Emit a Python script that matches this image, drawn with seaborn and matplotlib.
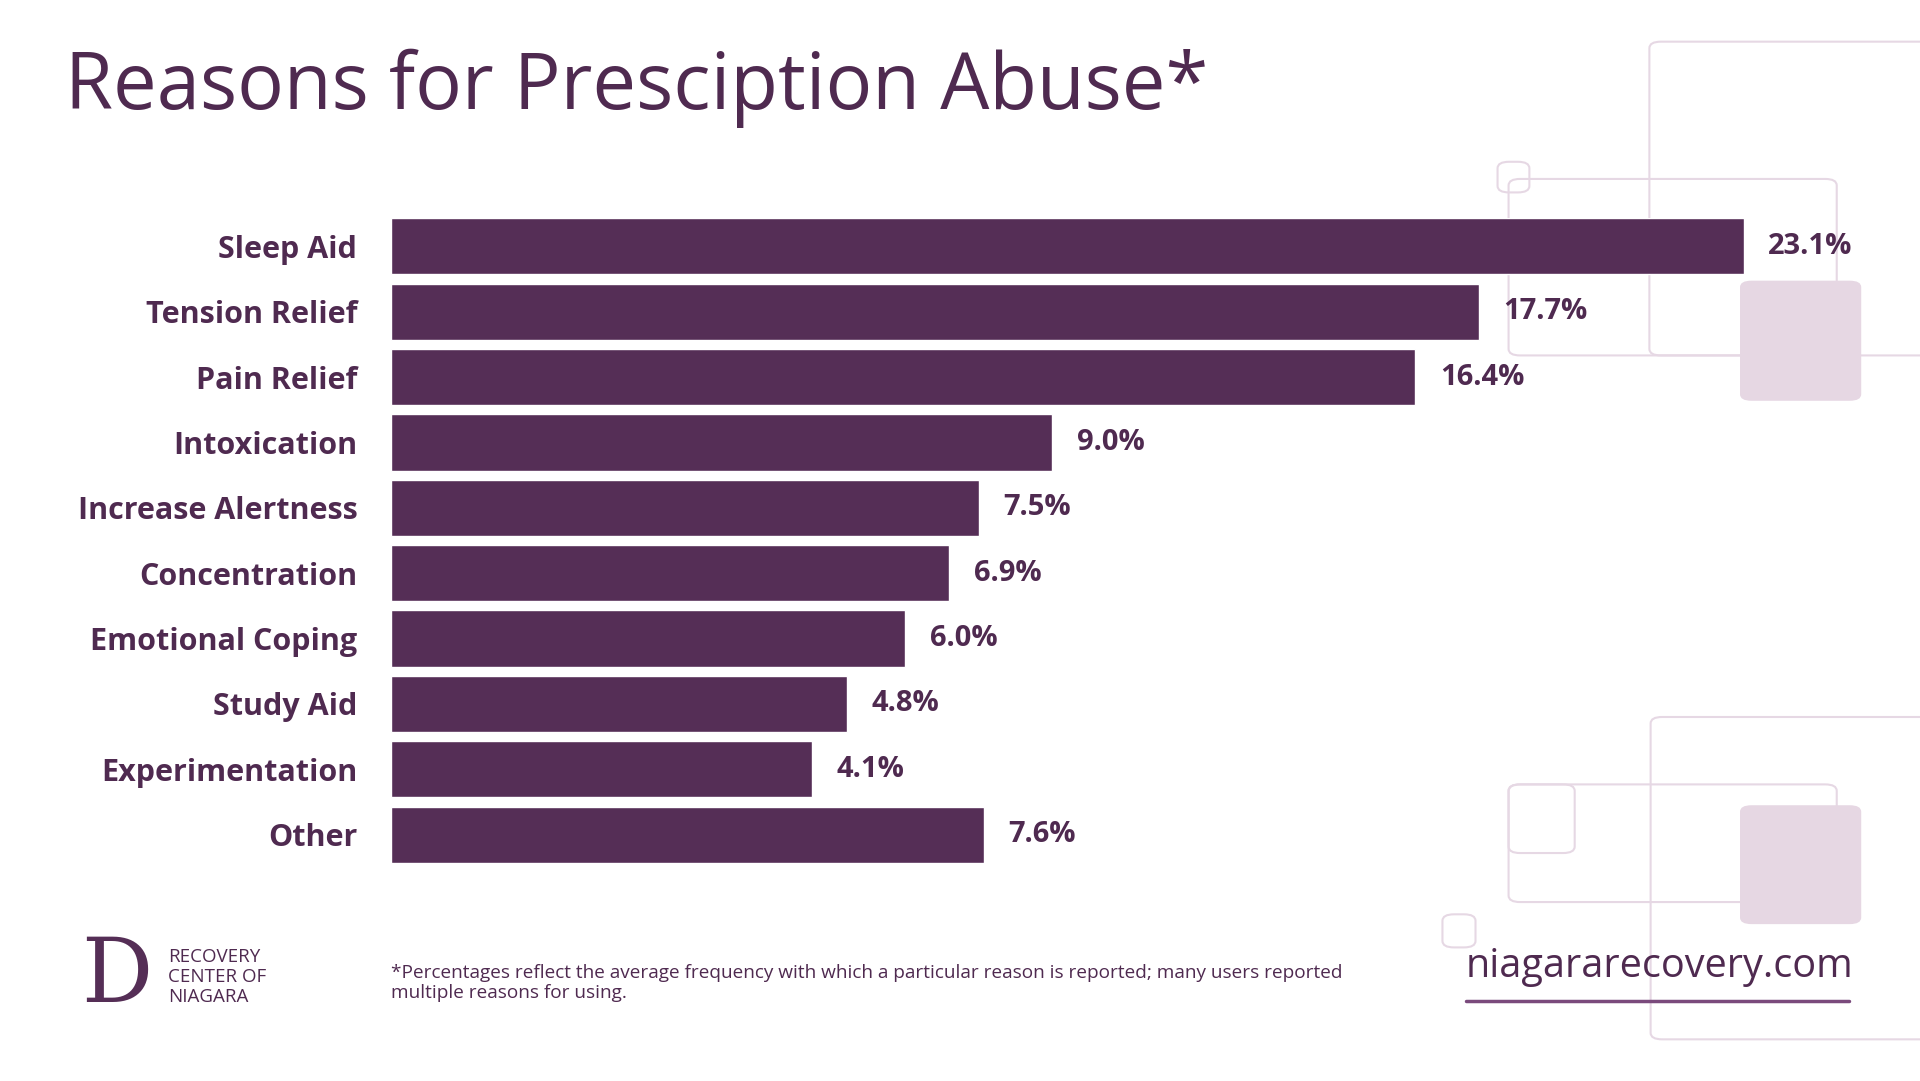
import matplotlib
matplotlib.use("Agg")
import matplotlib.pyplot as plt
import seaborn as sns
import pandas as pd
from matplotlib.patches import FancyBboxPatch

reasons = ["Sleep Aid", "Tension Relief", "Pain Relief", "Intoxication", "Increase Alertness",
           "Concentration", "Emotional Coping", "Study Aid", "Experimentation", "Other"]
percent = [23.1, 17.7, 16.4, 9.0, 7.5, 6.9, 6.0, 4.8, 4.1, 7.6]

# the original bars do not start at zero: the axis begins at about -4.5
base = -4.5
df = pd.DataFrame({"reason": reasons, "pct": percent})
df["shown"] = df["pct"] - base

sns.set_theme(style="white")
plt.rcParams['font.family'] = ['Open Sans', 'DejaVu Sans']

purple = "#552e56"
txt = "#4f2a50"
W, H = 1568, 882

fig = plt.figure(figsize=(19.2, 10.81), dpi=100)
fig.patch.set_facecolor("white")

# decorative rounded squares (display coords of reference)
def rbox(x0, y0, x1, y1, fill=None, edge="#e6d8e4", lw=1.5, r=0.006):
    p = FancyBboxPatch((x0 / W, 1 - y1 / H), (x1 - x0) / W, (y1 - y0) / H,
                       boxstyle=f"round,pad=0,rounding_size={r}", transform=fig.transFigure,
                       facecolor=fill if fill else "none", edgecolor=edge if not fill else "none",
                       linewidth=lw, zorder=0)
    fig.add_artist(p)

rbox(1347, 34, 1600, 290)
rbox(1232, 146, 1500, 290)
rbox(1223, 132, 1249, 157)
rbox(1421, 229, 1520, 327, fill="#e6d7e3")
rbox(1348, 585, 1600, 848)
rbox(1232, 640, 1286, 696)
rbox(1232, 640, 1500, 736)
rbox(1178, 746, 1205, 773)
rbox(1421, 657, 1520, 754, fill="#e6d7e3")

ax = fig.add_axes([319 / W, 1 - 704 / H, (1424 - 319) / W, (704 - 178) / H])
sns.barplot(data=df, x="shown", y="reason", color=purple, saturation=1, width=0.86, ax=ax, zorder=2)
ax.set_xlim(0, 23.1 - base)
ax.set_ylim(9.43, -0.43)
ax.set_xlabel("")
ax.set_ylabel("")
ax.set_xticks([])
for s in ax.spines.values():
    s.set_visible(False)
ax.set_facecolor("none")
ax.tick_params(axis="y", length=0, pad=24)
for lab in ax.get_yticklabels():
    lab.set_fontsize(22)
    lab.set_fontweight("bold")
    lab.set_color(txt)
for i, (v, s) in enumerate(zip(percent, df["shown"])):
    ax.text(s + 0.5, i, f"{v:.1f}%", va="center", ha="left", fontsize=21,
            fontweight="bold", color=txt)

fig.text(53 / W, 1 - 72 / H, "Reasons for Presciption Abuse*", fontsize=56,
         fontweight="medium", color=txt, va="center", ha="left")

fig.text(319 / W, 1 - 802 / H,
         "*Percentages reflect the average frequency with which a particular reason is reported; many users reported\nmultiple reasons for using.",
         fontsize=13.7, color=txt, va="center", ha="left", linespacing=1.15)

fig.text(1197 / W, 1 - 789 / H, "niagararecovery.com", fontsize=28.5, fontweight="medium",
         color=txt, va="center", ha="left")
fig.add_artist(plt.Line2D([1197 / W, 1510 / W], [1 - 817 / H] * 2, color="#7a4a7c",
                          lw=2.5, transform=fig.transFigure))

fig.text(66 / W, 1 - 797 / H, "D", fontsize=64, color=purple, va="center", ha="left",
         family="DejaVu Serif")
fig.text(137 / W, 1 - 797 / H, "RECOVERY\nCENTER OF\nNIAGARA", fontsize=13.5, color=txt,
         va="center", ha="left", linespacing=1.15)

fig.savefig("out.png", dpi=100, facecolor="white")
